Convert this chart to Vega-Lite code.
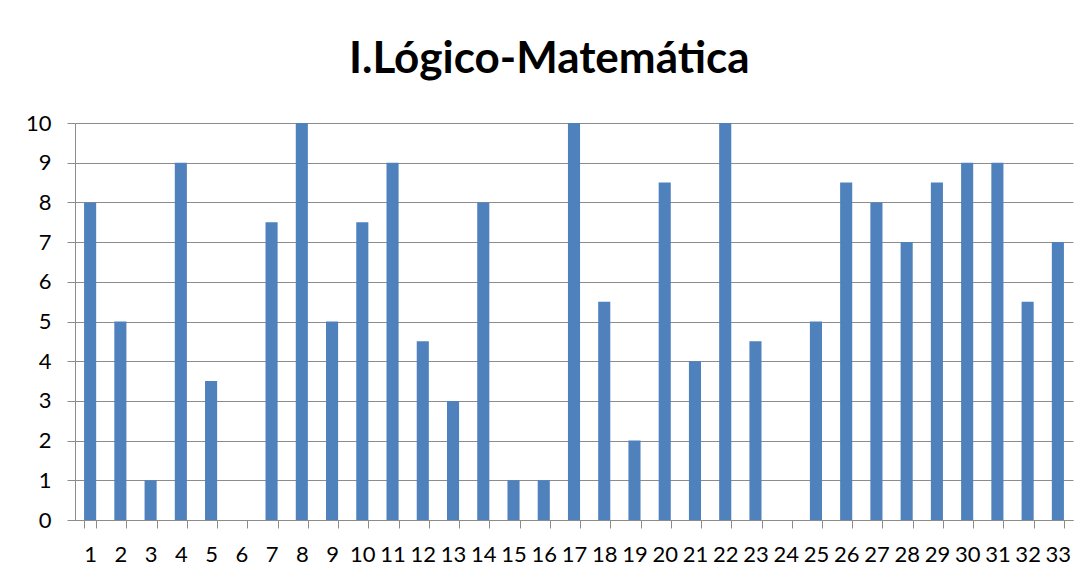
{
  "$schema": "https://vega.github.io/schema/vega-lite/v6.json",
  "width": 998,
  "height": 397,
  "autosize": {"type": "none"},
  "padding": {"left": 75, "top": 123, "right": 18, "bottom": 60},
  "background": "white",
  "title": {
    "text": "I.Lógico-Matemática",
    "font": "Lato",
    "fontSize": 44,
    "fontWeight": "bold",
    "color": "#000000",
    "anchor": "middle",
    "frame": "bounds",
    "offset": 30
  },
  "data": {
    "values": [
      {"n": "1", "v": 8}, {"n": "2", "v": 5}, {"n": "3", "v": 1}, {"n": "4", "v": 9},
      {"n": "5", "v": 3.5}, {"n": "6", "v": 0}, {"n": "7", "v": 7.5}, {"n": "8", "v": 10},
      {"n": "9", "v": 5}, {"n": "10", "v": 7.5}, {"n": "11", "v": 9}, {"n": "12", "v": 4.5},
      {"n": "13", "v": 3}, {"n": "14", "v": 8}, {"n": "15", "v": 1}, {"n": "16", "v": 1},
      {"n": "17", "v": 10}, {"n": "18", "v": 5.5}, {"n": "19", "v": 2}, {"n": "20", "v": 8.5},
      {"n": "21", "v": 4}, {"n": "22", "v": 10}, {"n": "23", "v": 4.5}, {"n": "24", "v": 0},
      {"n": "25", "v": 5}, {"n": "26", "v": 8.5}, {"n": "27", "v": 8}, {"n": "28", "v": 7},
      {"n": "29", "v": 8.5}, {"n": "30", "v": 9}, {"n": "31", "v": 9}, {"n": "32", "v": 5.5},
      {"n": "33", "v": 7}
    ]
  },
  "mark": {"type": "bar", "color": "#4F81BD"},
  "encoding": {
    "x": {
      "field": "n",
      "type": "ordinal",
      "sort": null,
      "scale": {"paddingInner": 0.6, "paddingOuter": 0.3},
      "axis": {
        "title": null,
        "labelAngle": 0,
        "labelFont": "Lato",
        "labelFontSize": 22,
        "labelColor": "#000000",
        "labelPadding": 16,
        "tickBand": "extent",
        "tickSize": 8,
        "tickColor": "#8C8C8C",
        "domainColor": "#8C8C8C",
        "grid": false
      }
    },
    "y": {
      "field": "v",
      "type": "quantitative",
      "scale": {"domain": [0, 10]},
      "axis": {
        "title": null,
        "values": [0, 1, 2, 3, 4, 5, 6, 7, 8, 9, 10],
        "labelFont": "Lato",
        "labelFontSize": 22,
        "labelColor": "#000000",
        "labelPadding": 16,
        "tickSize": 8,
        "tickColor": "#8C8C8C",
        "domainColor": "#8C8C8C",
        "gridColor": "#8C8C8C",
        "grid": true
      }
    }
  },
  "config": {"view": {"stroke": null}}
}
